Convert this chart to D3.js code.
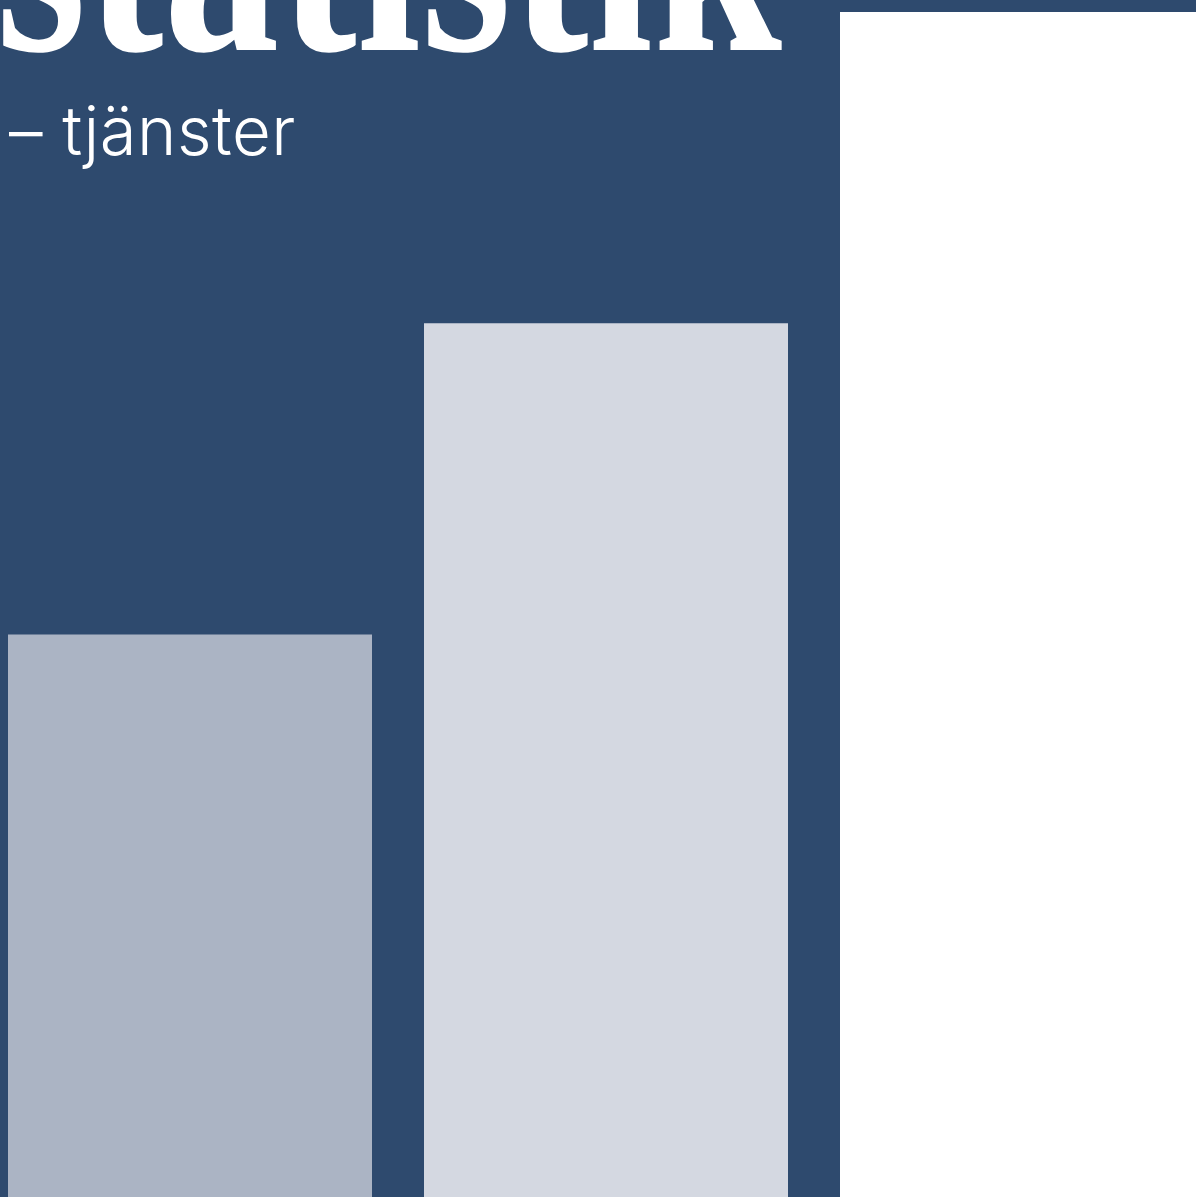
<!DOCTYPE html>
<html>
<head>
<meta charset="utf-8">
<script src="https://cdn.jsdelivr.net/npm/d3@7"></script>
<style>
  html, body { margin: 0; padding: 0; background: #2e4a6e; overflow: hidden; }
</style>
</head>
<body>
<div id="chart"></div>
<script>
  // Data
  const CATEGORIES = ["A", "B", "C"];
  const VALUES = [2, 3, 4];
  const TITLE = "statistik";
  const SUBTITLE = "– tjänster";

  const WIDTH = 1196;
  const HEIGHT = 1197;

  const COLORS = {
    background: "#2e4a6e",
    bars: ["#abb4c4", "#d4d8e1", "#ffffff"],
    text: "#ffffff",
  };

  const svg = d3
    .select("#chart")
    .append("svg")
    .attr("width", WIDTH)
    .attr("height", HEIGHT)
    .style("display", "block");

  svg
    .append("rect")
    .attr("width", WIDTH)
    .attr("height", HEIGHT)
    .attr("fill", COLORS.background);

  const xScale = d3
    .scaleBand()
    .domain(CATEGORIES)
    .range([8, 1204])
    .paddingInner(0.125)
    .paddingOuter(0);

  const yScale = d3.scaleLinear().domain([0, 4]).range([1257, 12]);

  // Bars
  svg
    .selectAll(".bar")
    .data(CATEGORIES.map((c, i) => ({ cat: c, value: VALUES[i], i })))
    .enter()
    .append("rect")
    .attr("class", "bar")
    .attr("x", (d) => xScale(d.cat))
    .attr("y", (d) => yScale(d.value))
    .attr("width", xScale.bandwidth())
    .attr("height", (d) => yScale(0) - yScale(d.value))
    .attr("fill", (d) => COLORS.bars[d.i]);

  // Title (runs off the top edge, as in the original)
  svg
    .append("text")
    .attr("x", -4)
    .attr("y", 50)
    .attr("fill", COLORS.text)
    .style("font-family", "'Liberation Serif', serif")
    .style("font-weight", 700)
    .style("font-size", "290px")
    .attr("textLength", 786)
    .attr("lengthAdjust", "spacingAndGlyphs")
    .text(TITLE);

  // Subtitle
  svg
    .append("text")
    .attr("x", 9)
    .attr("y", 155)
    .attr("fill", COLORS.text)
    .style("font-family", "Inter, 'Open Sans', sans-serif")
    .style("font-weight", 300)
    .style("font-size", "67px")
    .style("letter-spacing", "0.5px")
    .text(SUBTITLE);
</script>
</body>
</html>
